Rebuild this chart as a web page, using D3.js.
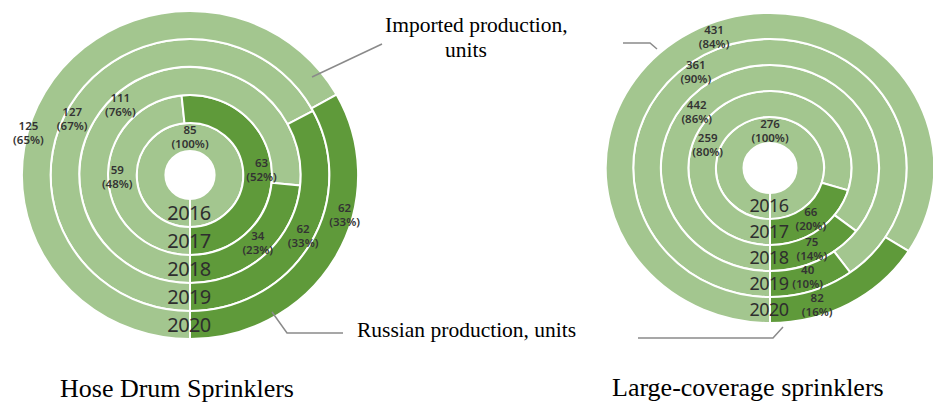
<!DOCTYPE html>
<html>
<head>
<meta charset="utf-8">
<script src="https://cdn.jsdelivr.net/npm/d3@7"></script>
<style>
  body { margin: 0; background: #fff; }
  svg { display: block; }
</style>
</head>
<body>
<svg id="chart" width="933" height="404"></svg>
<script>
// years go from the inner ring (2016) to the outer ring (2020)
const years = ['2016', '2017', '2018', '2019', '2020'];

const hoseImported = [85, 59, 111, 127, 125];
const hoseImportedPct = ['100%', '48%', '76%', '67%', '65%'];
const hoseRussian = [0, 63, 34, 62, 62];
const hoseRussianPct = ['', '52%', '23%', '33%', '33%'];

const largeImported = [276, 259, 442, 361, 431];
const largeImportedPct = ['100%', '80%', '86%', '90%', '84%'];
const largeRussian = [0, 66, 75, 40, 82];
const largeRussianPct = ['', '20%', '14%', '10%', '16%'];

const titles = ['Hose Drum Sprinklers', 'Large-coverage sprinklers'];
const seriesNames = ['Imported production,', 'units', 'Russian production, units'];

const LIGHT = '#a3c68f';
const DARK = '#5f9a3a';
const TEXT = '#333';

const svg = d3.select('#chart');

// label placement: angle in degrees (clockwise from top) and position inside the ring (0..1)
const hoseLayout = {
  cx: 190, cy: 175, sx: 1.025, inner: 24, outer: 164, yearSize: 20,
  impAngle: [0, -92, -44, -64, -75], impPos: [0.5, 0.68, 0.64, 0.71, 0.97],
  rusAngle: [0, 86, 136, 119, 105], rusPos: [0, 0.64, 0.54, 0.65, 0.72]
};
const largeLayout = {
  cx: 770, cy: 168, sx: 1.06, inner: 25, outer: 155, yearSize: 18,
  impAngle: [0, -69, -51, -36, -22], impPos: [0.45, 0.46, 0.46, 0.62, 0.46],
  rusAngle: [0, 143, 154, 162, 162], rusPos: [0, 0.5, 0.5, 0.46, 0.58]
};

function drawRings(lay, imported, impPct, russian, rusPct) {
  const g = svg.append('g');
  const rings = g.append('g')
    .attr('transform', `translate(${lay.cx},${lay.cy}) scale(${lay.sx},1)`);

  const r = d3.scaleLinear().domain([0, years.length]).range([lay.inner, lay.outer]);

  // starts at the bottom, imported goes round the left side, russian ends back at the bottom
  const pie = d3.pie().sort(null).startAngle(Math.PI).endAngle(3 * Math.PI);
  const arc = d3.arc();

  years.forEach((y, i) => {
    const slices = pie([imported[i], russian[i]]);
    rings.selectAll(null)
      .data(slices.filter(s => s.value > 0))
      .join('path')
      .attr('d', s => arc({ innerRadius: r(i), outerRadius: r(i + 1), startAngle: s.startAngle, endAngle: s.endAngle }))
      .attr('fill', s => s.index === 0 ? LIGHT : DARK)
      .attr('stroke', '#fff')
      .attr('stroke-width', 2)
      .attr('vector-effect', 'non-scaling-stroke');
  });

  // white line under the hole
  rings.append('line')
    .attr('x1', 0).attr('x2', 0)
    .attr('y1', r(0)).attr('y2', r(years.length))
    .attr('stroke', '#fff')
    .attr('stroke-width', 2)
    .attr('vector-effect', 'non-scaling-stroke');

  // year labels down the bottom
  g.selectAll('text.year')
    .data(years)
    .join('text')
    .attr('class', 'year')
    .attr('x', lay.cx - 1)
    .attr('y', (d, i) => lay.cy + r(i + 0.5))
    .attr('dy', '0.36em')
    .attr('text-anchor', 'middle')
    .style('font-family', '"Noto Sans", sans-serif')
    .style('font-size', lay.yearSize + 'px')
    .style('letter-spacing', '-0.6px')
    .style('fill', '#2e2e2e')
    .text(d => d);

  function valueLabel(value, pct, angleDeg, pos, i) {
    const a = angleDeg * Math.PI / 180;
    const rr = r(i + pos);
    const x = lay.cx + Math.sin(a) * rr * lay.sx;
    const y = lay.cy - Math.cos(a) * rr;
    const t = g.append('text')
      .attr('text-anchor', 'middle')
      .style('font-family', '"Noto Sans", sans-serif')
      .style('font-size', '11.5px')
      .style('font-weight', 600)
      .style('fill', TEXT);
    t.append('tspan').attr('x', x).attr('y', y - 3).text(value);
    t.append('tspan').attr('x', x).attr('y', y + 11).text(`(${pct})`);
  }

  years.forEach((y, i) => {
    valueLabel(imported[i], impPct[i], lay.impAngle[i], lay.impPos[i], i);
    if (russian[i] > 0) valueLabel(russian[i], rusPct[i], lay.rusAngle[i], lay.rusPos[i], i);
  });
}

drawRings(hoseLayout, hoseImported, hoseImportedPct, hoseRussian, hoseRussianPct);
drawRings(largeLayout, largeImported, largeImportedPct, largeRussian, largeRussianPct);

// callout lines
const lineGen = d3.line();
const callouts = [
  [[312, 77], [382, 44]],
  [[272, 312], [287, 333], [343, 333]],
  [[623, 43], [650, 43], [657, 49]],
  [[638, 338], [773, 338], [783, 327]]
];
svg.selectAll('path.callout')
  .data(callouts)
  .join('path')
  .attr('class', 'callout')
  .attr('d', lineGen)
  .attr('fill', 'none')
  .attr('stroke', '#8a8a8a')
  .attr('stroke-width', 1.5);

const serif = '"Liberation Serif", "Times New Roman", serif';

svg.append('text')
  .attr('x', 385).attr('y', 32)
  .style('font-family', serif).style('font-size', '21.5px')
  .text(seriesNames[0]);
svg.append('text')
  .attr('x', 445).attr('y', 57)
  .style('font-family', serif).style('font-size', '21.5px')
  .text(seriesNames[1]);
svg.append('text')
  .attr('x', 357).attr('y', 337)
  .style('font-family', serif).style('font-size', '21.5px')
  .text(seriesNames[2]);

// titles sit low, as in the original, but keep the descenders inside
svg.append('text')
  .attr('x', 60).attr('y', 397)
  .style('font-family', serif).style('font-size', '26px')
  .text(titles[0]);
svg.append('text')
  .attr('x', 612).attr('y', 396)
  .style('font-family', serif).style('font-size', '26px')
  .text(titles[1]);
</script>
</body>
</html>
